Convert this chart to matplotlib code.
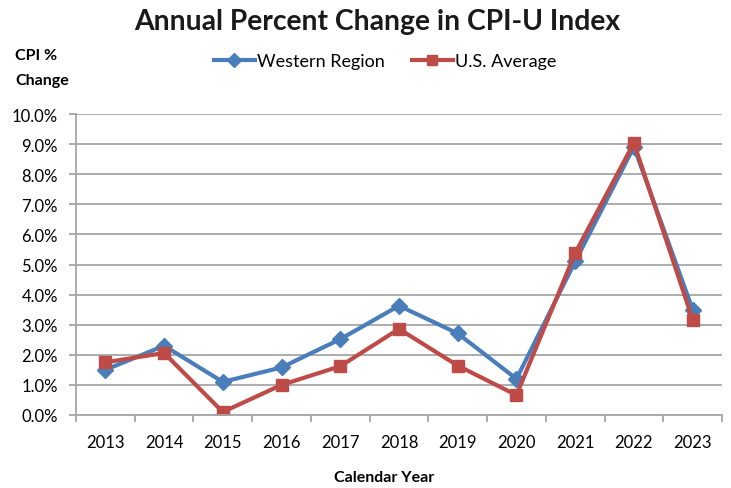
import matplotlib.pyplot as plt
import numpy as np

years = ["2013", "2014", "2015", "2016", "2017", "2018", "2019", "2020", "2021", "2022", "2023"]
western = [1.5, 2.3, 1.1, 1.58, 2.52, 3.63, 2.71, 1.2, 5.1, 8.91, 3.5]
us_avg = [1.75, 2.06, 0.1, 1.0, 1.62, 2.86, 1.64, 0.66, 5.38, 9.04, 3.17]

BLUE = "#4a7ebb"
RED = "#be4b48"
GRID = "#a6a6a6"

plt.rcParams["font.family"] = ["Lato", "DejaVu Sans"]

fig = plt.figure(figsize=(7.31, 4.89), dpi=100)
ax = fig.add_axes([76 / 731, 1 - 416 / 489, (722 - 76) / 731, (416 - 115) / 489])

x = np.arange(len(years))
ax.plot(x, western, color=BLUE, lw=3, marker="D", ms=8, label="Western Region")
ax.plot(x, us_avg, color=RED, lw=3, marker="s", ms=8, label="U.S. Average")

ax.set_ylim(0, 10)
ax.set_xlim(-0.5, len(years) - 0.5)
ax.set_yticks(np.arange(0, 10.5, 1))
ax.set_yticklabels([f"{v:.1f}%" for v in np.arange(0, 10.5, 1)], fontsize=12)
ax.yaxis.grid(True, color=GRID, lw=1.3)
ax.set_axisbelow(True)

# category labels in the middle, tick marks between categories
ax.set_xticks(np.arange(-0.5, len(years), 1))
ax.set_xticklabels([])
ax.set_xticks(x, minor=True)
ax.set_xticklabels(years, minor=True, fontsize=12)
ax.tick_params(axis="x", which="major", length=5, color=GRID, width=1.3)
ax.tick_params(axis="x", which="minor", length=0, pad=14)
ax.tick_params(axis="y", length=5, color=GRID, width=1.3, pad=8)

for side in ["top", "right"]:
    ax.spines[side].set_visible(False)
for side in ["left", "bottom"]:
    ax.spines[side].set_color(GRID)
    ax.spines[side].set_linewidth(1.3)

fig.text(377 / 731, 1 - 22 / 489, "Annual Percent Change in CPI-U Index",
         ha="center", va="center", fontsize=20.3, fontweight="bold", color="#1a1a1a")
fig.text(15 / 731, 1 - 69 / 489, "CPI %\nChange", ha="left", va="center",
         fontsize=11.5, fontweight="bold", linespacing=2.0)
fig.text(384 / 731, 1 - 478 / 489, "Calendar Year", ha="center", va="center",
         fontsize=11.5, fontweight="bold")

fig.legend(loc="center", bbox_to_anchor=(385 / 731, 1 - 62 / 489), ncol=2,
           frameon=False, fontsize=13, handlelength=2.3, handletextpad=0.1,
           columnspacing=1.5, markerscale=0.9)

fig.savefig("out.png", dpi=100)
